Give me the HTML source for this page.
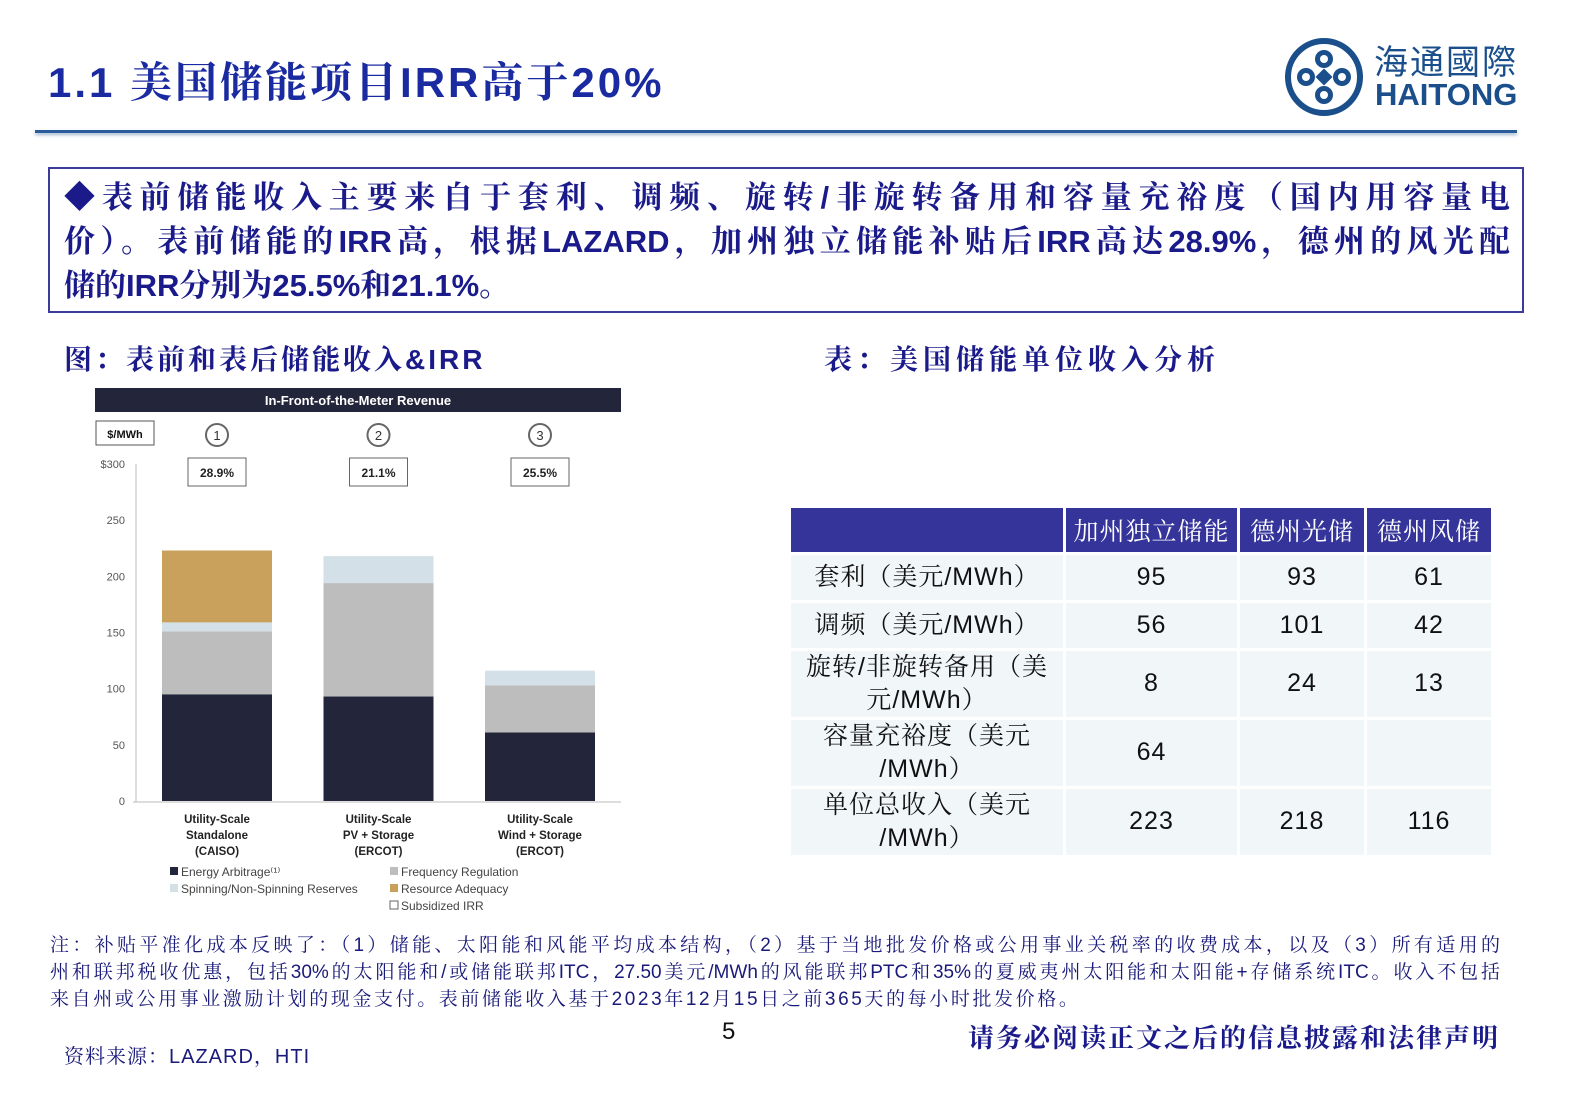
<!DOCTYPE html>
<html><head><meta charset="utf-8">
<style>
body{margin:0;width:1587px;height:1095px;background:#fff;position:relative;overflow:hidden;font-family:"Liberation Sans","Noto Serif CJK SC",serif;}
.abs{position:absolute;}
#title{left:48px;top:50px;font-size:42px;font-weight:bold;color:#1a2aa0;white-space:nowrap;letter-spacing:3px;font-family:"Liberation Sans","Noto Serif CJK SC",serif;}
#rule{left:35px;top:130px;width:1482px;height:3px;background:#2a5d9a;box-shadow:0 2px 3px #9bb3cc;}
#box{left:48px;top:167px;width:1476px;height:146px;border:2px solid #3b3b9a;box-sizing:border-box;}
#boxtext{left:64px;top:176px;width:1446px;font-size:31px;line-height:44px;font-weight:bold;color:#1a1a8a;}
.j{text-align:justify;text-align-last:justify;white-space:nowrap;}
.cap{font-size:28px;font-weight:bold;color:#1a1a8a;white-space:nowrap;}
table{border-collapse:collapse;position:absolute;left:788px;top:508px;}
td{background:#f1f6f9;border:3px solid #fff;text-align:center;font-size:25px;color:#111;padding:0;font-family:"Liberation Sans","Noto Serif CJK SC",serif;line-height:33px;letter-spacing:1px;}
th{background:#34349a;color:#fff;font-weight:normal;font-size:25px;border:3px solid #fff;border-top:0;padding:0;white-space:nowrap;letter-spacing:1px;font-family:"Noto Serif CJK SC",serif;}
#note{left:50px;top:932px;width:1450px;font-size:19px;line-height:27px;color:#1a1a7a;}
</style></head><body>
<div class="abs" id="title">1.1 美国储能项目IRR高于20%</div>
<svg class="abs" style="left:1284px;top:37px" width="80" height="80">
<circle cx="40" cy="40" r="36" fill="none" stroke="#1a4f8c" stroke-width="6"/>
<g fill="#1a4f8c"><circle cx="40" cy="22" r="9"/><circle cx="58" cy="40" r="9"/><circle cx="40" cy="58" r="9"/><circle cx="22" cy="40" r="9"/></g>
<g fill="#fff"><circle cx="40" cy="22" r="4"/><circle cx="58" cy="40" r="4"/><circle cx="40" cy="58" r="4"/><circle cx="22" cy="40" r="4"/></g>
<rect x="34" y="34" width="12" height="12" fill="#1a4f8c" transform="rotate(45 40 40)"/>
</svg>
<div class="abs" style="left:1374px;top:40px;font-size:34px;color:#1a4f8c;font-family:'Noto Sans CJK SC',sans-serif;letter-spacing:2px;line-height:40px;">海通國際</div>
<div class="abs" style="left:1375px;top:78px;font-size:31px;font-weight:bold;color:#1a4f8c;line-height:34px;">HAITONG</div>
<div class="abs" id="rule"></div>
<div class="abs" id="box"></div>
<div class="abs" id="boxtext">
<div class="j">◆表前储能收入主要来自于套利、调频、旋转/非旋转备用和容量充裕度（国内用容量电</div>
<div class="j">价）。表前储能的IRR高，根据LAZARD，加州独立储能补贴后IRR高达28.9%，德州的风光配</div>
<div>储的IRR分别为25.5%和21.1%。</div>
</div>
<div class="abs cap" style="left:64px;top:338px;letter-spacing:3px">图：表前和表后储能收入&amp;IRR</div>
<div class="abs cap" style="left:824px;top:338px;letter-spacing:5px">表：美国储能单位收入分析</div>

<svg class="abs" style="left:0;top:0" width="700" height="920" id="chart"></svg>

<table>
<tr style="height:45px"><th style="width:272px"></th><th style="width:171px">加州独立储能</th><th style="width:124px">德州光储</th><th style="width:124px">德州风储</th></tr>
<tr style="height:48px"><td>套利（美元/MWh）</td><td>95</td><td>93</td><td>61</td></tr>
<tr style="height:48px"><td>调频（美元/MWh）</td><td>56</td><td>101</td><td>42</td></tr>
<tr style="height:67px"><td>旋转/非旋转备用（美元/MWh）</td><td>8</td><td>24</td><td>13</td></tr>
<tr style="height:68px"><td>容量充裕度（美元<br>/MWh）</td><td>64</td><td></td><td></td></tr>
<tr style="height:67px"><td>单位总收入（美元<br>/MWh）</td><td>223</td><td>218</td><td>116</td></tr>
</table>

<div class="abs" id="note">
<div class="j">注：补贴平准化成本反映了：（1）储能、太阳能和风能平均成本结构，（2）基于当地批发价格或公用事业关税率的收费成本，以及（3）所有适用的</div>
<div class="j">州和联邦税收优惠，包括30%的太阳能和/或储能联邦ITC，27.50美元/MWh的风能联邦PTC和35%的夏威夷州太阳能和太阳能+存储系统ITC。收入不包括</div>
<div style="letter-spacing:2.6px">来自州或公用事业激励计划的现金支付。表前储能收入基于2023年12月15日之前365天的每小时批发价格。</div>
</div>
<div class="abs" style="left:722px;top:1018px;font-size:24px;color:#111">5</div>
<div class="abs" style="left:64px;top:1040px;font-size:20px;color:#1a1a7a;letter-spacing:1px">资料来源：LAZARD，HTI</div>
<div class="abs" style="left:968px;top:1018px;font-size:26px;font-weight:bold;color:#1a1a8a;letter-spacing:2px">请务必阅读正文之后的信息披露和法律声明</div>

<script>
const categories=["Utility-Scale|Standalone|(CAISO)","Utility-Scale|PV + Storage|(ERCOT)","Utility-Scale|Wind + Storage|(ERCOT)"];
const irrLabels=["28.9%","21.1%","25.5%"];
const energyArbitrage=[95,93,61];
const freqRegulation=[56,101,42];
const spinReserves=[8,24,13];
const resourceAdequacy=[64,0,0];
const yTicks=[0,50,100,150,200,250,300];
const yTickLabels=["0","50","100","150","200","250","$300"];
const NS="http://www.w3.org/2000/svg";
const svg=document.getElementById('chart');
function el(t,a,txt){const e=document.createElementNS(NS,t);for(const k in a)e.setAttribute(k,a[k]);if(txt!==undefined)e.textContent=txt;svg.appendChild(e);return e;}
const y=v=>801-v*(801-464)/300;
const xc=i=>217+i*161.5;
const bw=110;
let e;
e=el('rect',{x:95,y:388,width:526,height:24,fill:'#23253a'});

e=el('text',{x:358,y:405,'text-anchor':'middle',fill:'#fff','font-size':13,'font-weight':'bold'},'In-Front-of-the-Meter Revenue');

e=el('rect',{x:96,y:421,width:58,height:24,fill:'#fff',stroke:'#555'});

e=el('text',{x:125,y:438,'text-anchor':'middle','font-size':11,'font-weight':'bold',fill:'#111'},'$/MWh');

e=el('line',{x1:136,y1:464,x2:136,y2:802,stroke:'#bbb'});

e=el('line',{x1:133,y1:802,x2:621,y2:802,stroke:'#bbb'});

yTicks.forEach((t,i)=>{
 e=el('text',{x:125,y:y(t)+4,'text-anchor':'end','font-size':11,fill:'#555'},yTickLabels[i]);
 
});
const series=[[energyArbitrage,'#23253a','energy-arbitrage'],[freqRegulation,'#bdbdbd','frequency-regulation'],[spinReserves,'#d3e0e8','spinning-reserves'],[resourceAdequacy,'#c9a15c','resource-adequacy']];
categories.forEach((c,i)=>{
 let base=0;
 series.forEach(s=>{const v=s[0][i];if(v>0){
  e=el('rect',{x:xc(i)-bw/2,y:y(base+v),width:bw,height:y(base)-y(base+v),fill:s[1]});
  }
  base+=v;});
 e=el('circle',{cx:xc(i),cy:435,r:11,fill:'#fff',stroke:'#666','stroke-width':2});
 
 e=el('text',{x:xc(i),y:440,'text-anchor':'middle','font-size':13,fill:'#333'},String(i+1));
 
 e=el('rect',{x:xc(i)-29,y:458,width:58,height:28,fill:'#fff',stroke:'#666'});
 
 e=el('text',{x:xc(i),y:477,'text-anchor':'middle','font-size':12,'font-weight':'bold',fill:'#222'},irrLabels[i]);
 
 c.split('|').forEach((ln,j)=>{
  e=el('text',{x:xc(i),y:823+j*16,'text-anchor':'middle','font-size':11.5,'font-weight':'bold',fill:'#222'},ln);
  
 });
});
const legend=[[170,868,'#23253a','Energy Arbitrage⁽¹⁾'],[390,868,'#bdbdbd','Frequency Regulation'],[170,885,'#d3e0e8','Spinning/Non-Spinning Reserves'],[390,885,'#c9a15c','Resource Adequacy'],[390,902,'#fff','Subsidized IRR']];
legend.forEach(l=>{
 e=el('rect',{x:l[0],y:l[1]-1,width:8,height:8,fill:l[2],stroke:l[2]=='#fff'?'#666':'none'});
 
 e=el('text',{x:l[0]+11,y:l[1]+8,'font-size':12,fill:'#444'},l[3]);
 
});
</script>
</body></html>
